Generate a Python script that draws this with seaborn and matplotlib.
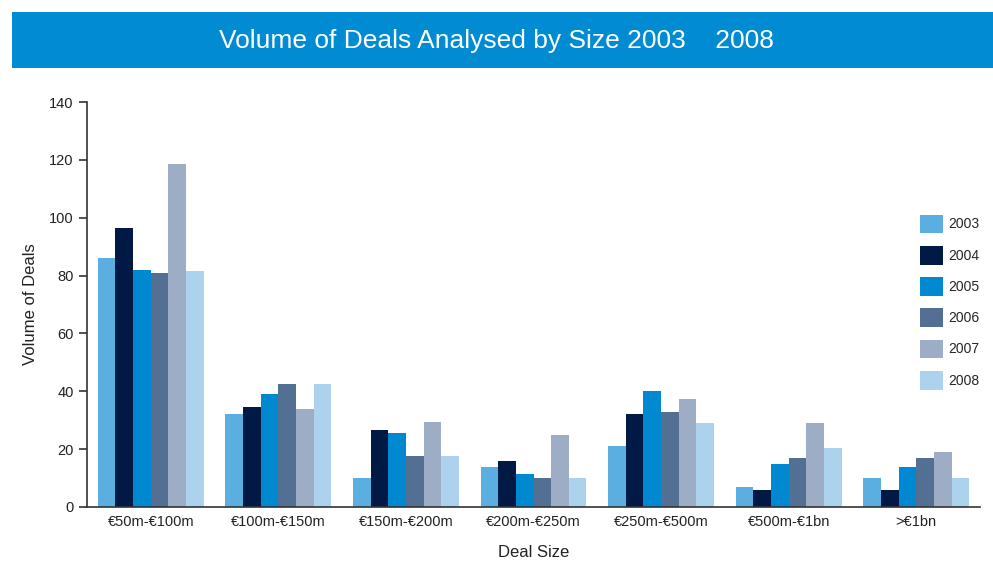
import matplotlib
matplotlib.use("Agg")
import matplotlib.pyplot as plt
from matplotlib.patches import Rectangle, Patch
import numpy as np
import pandas as pd
import seaborn as sns

sns.set_style("white")
plt.rcParams["font.family"] = ["Liberation Sans", "DejaVu Sans"]

categories = ["€50m-€100m", "€100m-€150m", "€150m-€200m", "€200m-€250m",
              "€250m-€500m", "€500m-€1bn", ">€1bn"]
years = ["2003", "2004", "2005", "2006", "2007", "2008"]

deals_2003 = [86, 32, 10, 14, 21, 7, 10]
deals_2004 = [96.5, 34.5, 26.5, 16, 32, 6, 6]
deals_2005 = [82, 39, 25.5, 11.5, 40, 15, 14]
deals_2006 = [81, 42.5, 17.5, 10, 33, 17, 17]
deals_2007 = [118.5, 34, 29.5, 25, 37.5, 29, 19]
deals_2008 = [81.5, 42.5, 17.5, 10, 29, 20.5, 10]

colors = ["#5AAEE0", "#001A45", "#0089D1", "#537094", "#9DADC6", "#ADD2EE"]

series = [deals_2003, deals_2004, deals_2005, deals_2006, deals_2007, deals_2008]
df = pd.DataFrame({
    "Deal Size": [c for _ in years for c in categories],
    "Year": [y for y in years for _ in categories],
    "Volume": [v for s in series for v in s],
})

fig = plt.figure(figsize=(9.93, 5.62), dpi=100)

# Title banner
fig.patches.append(Rectangle((12 / 993, (562 - 68) / 562), 1 - 12 / 993, 56 / 562,
                             transform=fig.transFigure, facecolor="#008BD2",
                             edgecolor="none", zorder=0))
fig.text(0.5, (562 - 41) / 562, "Volume of Deals Analysed by Size 2003    2008",
         ha="center", va="center", color="white", fontsize=19)

ax = fig.add_axes([87 / 993, 55 / 562, (980 - 87) / 993, 405 / 562])
sns.barplot(data=df, x="Deal Size", y="Volume", hue="Year", palette=colors,
            width=0.83, saturation=1, ax=ax, legend=False)
for p in ax.patches:
    p.set_edgecolor("none")

ax.set_xlim(-0.5, len(categories) - 0.5)
ax.set_ylim(0, 140)
ax.set_yticks(np.arange(0, 141, 20))
ax.set_xlabel("Deal Size", fontsize=12, color="#222222", labelpad=11)
ax.set_ylabel("Volume of Deals", fontsize=12, color="#222222", labelpad=8)

for s in ["top", "right"]:
    ax.spines[s].set_visible(False)
for s in ["left", "bottom"]:
    ax.spines[s].set_color("#333333")
    ax.spines[s].set_linewidth(1.2)

ax.set_xticks(np.arange(-0.5, len(categories), 1.0), minor=True)
ax.tick_params(axis="x", which="major", length=0, labelsize=10.5, colors="#222222", pad=6)
ax.tick_params(axis="x", which="minor", length=6, width=1.2, color="#333333", direction="out")
ax.tick_params(axis="y", which="major", length=6, width=1.2, color="#333333",
               direction="out", labelsize=10.5, labelcolor="#222222", left=True)

handles = [Patch(facecolor=c, edgecolor="none") for c in colors]
fig.legend(handles, years, loc="upper left", bbox_to_anchor=(914 / 993, (562 - 209) / 562),
           frameon=False, fontsize=10, handlelength=1.7, handleheight=1.7,
           labelspacing=0.9, handletextpad=0.35, borderaxespad=0)

fig.savefig("out.png", dpi=100)
